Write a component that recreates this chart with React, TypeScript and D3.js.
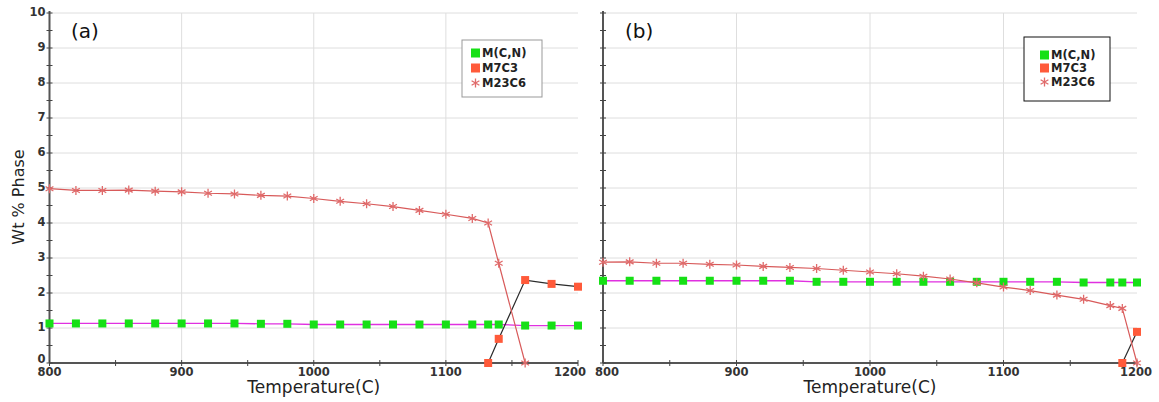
import React from 'react';
import * as d3 from 'd3';

// ---------- DATA ----------
const tempA_MCN = [800, 820, 840, 860, 880, 900, 920, 940, 960, 980, 1000, 1020, 1040, 1060, 1080, 1100, 1120, 1132, 1140, 1160, 1180, 1200];
const valA_MCN = [1.13, 1.13, 1.13, 1.13, 1.13, 1.13, 1.13, 1.13, 1.12, 1.12, 1.1, 1.1, 1.1, 1.1, 1.1, 1.1, 1.1, 1.1, 1.1, 1.07, 1.07, 1.07];
const tempA_M7C3 = [1132, 1140, 1160, 1180, 1200];
const valA_M7C3 = [0, 0.69, 2.37, 2.26, 2.18];
const tempA_M23C6 = [800, 820, 840, 860, 880, 900, 920, 940, 960, 980, 1000, 1020, 1040, 1060, 1080, 1100, 1120, 1132, 1140, 1160];
const valA_M23C6 = [4.98, 4.93, 4.93, 4.94, 4.91, 4.89, 4.85, 4.83, 4.79, 4.77, 4.7, 4.62, 4.55, 4.47, 4.36, 4.25, 4.13, 4.0, 2.85, 0];

const tempB_MCN = [800, 820, 840, 860, 880, 900, 920, 940, 960, 980, 1000, 1020, 1040, 1060, 1080, 1100, 1120, 1140, 1160, 1180, 1189, 1200];
const valB_MCN = [2.35, 2.35, 2.35, 2.35, 2.35, 2.35, 2.35, 2.35, 2.32, 2.32, 2.32, 2.32, 2.32, 2.32, 2.32, 2.32, 2.32, 2.32, 2.3, 2.3, 2.3, 2.3];
const tempB_M7C3 = [1189, 1200];
const valB_M7C3 = [0, 0.89];
const tempB_M23C6 = [800, 820, 840, 860, 880, 900, 920, 940, 960, 980, 1000, 1020, 1040, 1060, 1080, 1100, 1120, 1140, 1160, 1180, 1189, 1200];
const valB_M23C6 = [2.88, 2.89, 2.85, 2.85, 2.82, 2.8, 2.76, 2.73, 2.7, 2.65, 2.6, 2.55, 2.48, 2.4, 2.29, 2.17, 2.07, 1.94, 1.82, 1.64, 1.56, 0];

const xTicks = [800, 900, 1000, 1100, 1200];
const xMinor = [850, 950, 1050, 1150];
const yTicks = [0, 1, 2, 3, 4, 5, 6, 7, 8, 9, 10];
const seriesNames = ['M(C,N)', 'M7C3', 'M23C6'];

const C_GREEN = '#16e016';
const C_MAG = '#e030e0';
const C_ORANGE = '#ff5a3a';
const C_DARK = '#2a2a2a';
const C_RED_LINE = '#d85a5a';
const C_STAR = '#e06a6a';

const Y0 = 363;
const Y1 = 13;

type Pt = [number, number];
const zip = (t: number[], v: number[]): Pt[] => t.map((d, i) => [d, v[i]]);

function Star({ cx, cy, r, color }: { cx: number; cy: number; r: number; color: string }) {
  const arms = [90, 30, -30].map((a) => {
    const rad = (a * Math.PI) / 180;
    const dx = Math.cos(rad) * r;
    const dy = Math.sin(rad) * r;
    return `M${cx - dx},${cy - dy}L${cx + dx},${cy + dy}`;
  });
  return <path d={arms.join('')} stroke={color} strokeWidth={1.3} fill="none" />;
}

function Panel({
  x0, x1, label, labelX, showYLabels, mcn, m7, m23, legend, firstShift, lastShift,
}: {
  x0: number; x1: number; label: string; labelX: number; showYLabels: boolean;
  mcn: Pt[]; m7: Pt[]; m23: Pt[]; firstShift: number; lastShift: number;
  legend: { x: number; y: number; w: number; h: number; border: string; rows: number[]; sx: number };
}) {
  const x = d3.scaleLinear().domain([800, 1200]).range([x0, x1]);
  const y = d3.scaleLinear().domain([0, 10]).range([Y0, Y1]);
  const line = d3.line<Pt>().x((d) => x(d[0])).y((d) => y(d[1]));
  const yMinor = d3.range(0, 10.01, 0.5);
  const axisCol = '#555';
  return (
    <g>
      {yTicks.filter((t) => t > 0).map((t) => (
        <line key={'gy' + t} x1={x0} x2={x1} y1={y(t)} y2={y(t)} stroke="#dedede" strokeWidth={1} />
      ))}
      {xTicks.filter((t) => t > 800 && t < 1200).map((t) => (
        <line key={'gx' + t} x1={x(t)} x2={x(t)} y1={Y0} y2={Y1} stroke="#dedede" strokeWidth={1} />
      ))}
      <line x1={x0} x2={x0} y1={Y1 - 2} y2={Y0} stroke={axisCol} strokeWidth={2} />
      <line x1={x0} x2={x1} y1={Y0} y2={Y0} stroke={axisCol} strokeWidth={2} />
      {yMinor.map((t) => (
        <line key={'ty' + t} x1={x0 - 3} x2={x0 + 3} y1={y(t)} y2={y(t)} stroke="#444" strokeWidth={1} />
      ))}
      {[...xTicks, ...xMinor].map((t) => (
        <line key={'tx' + t} x1={x(t)} x2={x(t)} y1={Y0 - 3} y2={Y0 + 3} stroke="#444" strokeWidth={1} />
      ))}
      {xTicks.map((t, i) => (
        <text
          key={'lx' + t}
          x={x(t) + (i === 0 ? firstShift : i === xTicks.length - 1 ? lastShift : 0)}
          y={376}
          textAnchor="middle"
          fontFamily="DejaVu Sans"
          fontWeight="bold"
          fontSize={11.5}
          fill="#333"
        >
          {t}
        </text>
      ))}
      {showYLabels && yTicks.map((t) => (
        <text key={'ly' + t} x={x0 - 4} y={y(t) - (t === 0 ? 4 : 1)} textAnchor="end" dominantBaseline="middle" fontFamily="DejaVu Sans" fontWeight="bold" fontSize={11.5} fill="#333">
          {t}
        </text>
      ))}
      <text x={(x0 + x1) / 2} y={393} textAnchor="middle" fontFamily="DejaVu Sans" fontSize={17} fill="#222">
        Temperature(C)
      </text>
      <text x={labelX} y={38} fontFamily="DejaVu Sans" fontSize={20} fill="#111">{label}</text>

      <path d={line(mcn) || ''} stroke={C_MAG} strokeWidth={1.3} fill="none" />
      {mcn.map((d, i) => (
        <rect key={'g' + i} x={x(d[0]) - 4} y={y(d[1]) - 4} width={8} height={8} fill={C_GREEN} />
      ))}
      <path d={line(m7) || ''} stroke={C_DARK} strokeWidth={1.2} fill="none" />
      {m7.map((d, i) => (
        <rect key={'o' + i} x={x(d[0]) - 4} y={y(d[1]) - 4} width={8} height={8} fill={C_ORANGE} />
      ))}
      <path d={line(m23) || ''} stroke={C_RED_LINE} strokeWidth={1.2} fill="none" />
      {m23.map((d, i) => (
        <Star key={'s' + i} cx={x(d[0])} cy={y(d[1])} r={4.5} color={C_STAR} />
      ))}

      <rect x={legend.x} y={legend.y} width={legend.w} height={legend.h} fill="#fff" stroke={legend.border} strokeWidth={1} />
      {seriesNames.map((n, i) => {
        const cy = legend.rows[i];
        return (
          <g key={n}>
            {i < 2 ? (
              <rect x={legend.sx} y={cy - 4.5} width={9} height={9} fill={i === 0 ? C_GREEN : C_ORANGE} />
            ) : (
              <Star cx={legend.sx + 4.5} cy={cy} r={4.5} color={C_STAR} />
            )}
            <text x={legend.sx + 11} y={cy} dominantBaseline="middle" fontFamily="DejaVu Sans" fontWeight="bold" fontSize={11.5} fill="#222">
              {n}
            </text>
          </g>
        );
      })}
    </g>
  );
}

export default function App() {
  return (
    <svg width={1159} height={402} style={{ position: 'absolute', left: 0, top: 0, background: '#fff' }}>
      <rect x={0} y={0} width={1159} height={402} fill="#fff" />
      <text
        transform="translate(24,197) rotate(-90)"
        textAnchor="middle"
        fontFamily="DejaVu Sans"
        fontSize={16}
        fill="#222"
      >
        Wt % Phase
      </text>
      <Panel
        x0={49.5}
        x1={578}
        label="(a)"
        labelX={71}
        showYLabels={true}
        firstShift={0}
        lastShift={-8}
        mcn={zip(tempA_MCN, valA_MCN)}
        m7={zip(tempA_M7C3, valA_M7C3)}
        m23={zip(tempA_M23C6, valA_M23C6)}
        legend={{ x: 462, y: 40, w: 80, h: 57, border: '#999', rows: [53, 68, 83], sx: 471 }}
      />
      <Panel
        x0={603}
        x1={1137}
        label="(b)"
        labelX={625}
        showYLabels={false}
        firstShift={4}
        lastShift={-1}
        mcn={zip(tempB_MCN, valB_MCN)}
        m7={zip(tempB_M7C3, valB_M7C3)}
        m23={zip(tempB_M23C6, valB_M23C6)}
        legend={{ x: 1024, y: 37, w: 86, h: 64, border: '#111', rows: [55, 68, 82], sx: 1040 }}
      />
    </svg>
  );
}
